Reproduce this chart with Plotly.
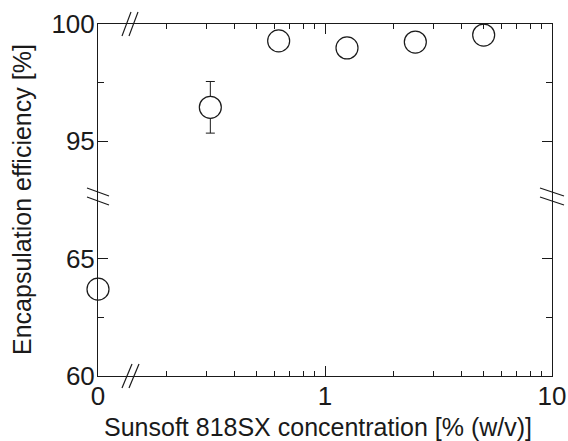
import plotly.graph_objects as go

# ---- data ----
concentration = [0, 0.3125, 0.625, 1.25, 2.5, 5]          # % (w/v)
efficiency = [63.7, 96.45, 99.28, 98.98, 99.23, 99.53]    # %
error = [0, 1.1, 0, 0, 0, 0]
x_ticktext = ["0", "1", "10"]
y_low_ticks = [60, 65]
y_high_ticks = [95, 100]

ZERO_POS = 0.1  # position where "0" is drawn on the broken log axis
BREAK_LOW, BREAK_HIGH = 67.5, 92.5

W, H = 568, 441
ML, MR, MT, MB = 98, 16, 24, 65
PW, PH = W - ML - MR, H - MT - MB
INK = "#1a1a1a"
FONT = "Liberation Sans, Arial, Helvetica, sans-serif"

xp = [c if c > 0 else ZERO_POS for c in concentration]
pts = list(zip(xp, efficiency, error))

marker = dict(symbol="circle", size=22, color="white", line=dict(width=1.2, color=INK))

fig = go.Figure()


def add_group(sel, xa, ya):
    plain = [p for p in sel if p[2] == 0]
    err = [p for p in sel if p[2] > 0]
    if err:
        fig.add_trace(go.Scatter(
            x=[p[0] for p in err], y=[p[1] for p in err], mode="markers",
            marker=marker, xaxis=xa, yaxis=ya, cliponaxis=False, showlegend=False,
            error_y=dict(type="data", array=[p[2] for p in err], visible=True,
                         color=INK, thickness=1, width=4.5)))
    if plain:
        fig.add_trace(go.Scatter(
            x=[p[0] for p in plain], y=[p[1] for p in plain], mode="markers",
            marker=marker, xaxis=xa, yaxis=ya, cliponaxis=False, showlegend=False))


add_group([p for p in pts if p[1] <= BREAK_LOW], "x", "y")
add_group([p for p in pts if p[1] >= BREAK_HIGH], "x2", "y2")

minor_x = [0.2, 0.3, 0.4, 0.5, 0.6, 0.7, 0.8, 0.9, 2, 3, 4, 5, 6, 7, 8, 9]
common_x = dict(type="log", range=[-1, 1], showline=True, linecolor=INK, linewidth=1,
                ticks="inside", ticklen=10, tickcolor=INK, tickwidth=1,
                tickmode="array", tickvals=[ZERO_POS, 1, 10], ticktext=x_ticktext,
                showgrid=False, zeroline=False, automargin=False,
                minor=dict(ticks="inside", ticklen=5, tickcolor=INK, tickwidth=1,
                           tickmode="array", tickvals=minor_x, showgrid=False),
                tickfont=dict(family=FONT, size=26, color=INK))
common_y = dict(showline=True, linecolor=INK, linewidth=1, mirror="ticks",
                ticks="inside", ticklen=10, tickcolor=INK, tickwidth=1,
                showgrid=False, zeroline=False, ticklabelstandoff=-3, automargin=False,
                tickfont=dict(family=FONT, size=26, color=INK))

fig.update_layout(
    width=W, height=H,
    margin=dict(l=ML, r=MR, t=MT, b=MB, autoexpand=False),
    paper_bgcolor="white", plot_bgcolor="white",
    font=dict(family=FONT, color=INK),
    xaxis=dict(**common_x, anchor="y", side="bottom", domain=[0, 1],
               ticklabelstandoff=-3),
    xaxis2=dict(**common_x, anchor="y2", side="top", overlaying="x", matches="x",
                showticklabels=False),
    yaxis=dict(**common_y, anchor="x", domain=[0, 0.5], range=[60, BREAK_LOW],
               tickmode="array", tickvals=y_low_ticks,
               minor=dict(ticks="inside", ticklen=6, tickcolor=INK, tickwidth=1,
                          tickmode="array", tickvals=[62.5], showgrid=False)),
    yaxis2=dict(**common_y, anchor="x2", domain=[0.5, 1], range=[BREAK_HIGH, 100],
                tickmode="array", tickvals=y_high_ticks,
                minor=dict(ticks="inside", ticklen=6, tickcolor=INK, tickwidth=1,
                           tickmode="array", tickvals=[97.5], showgrid=False)),
)


# pixel -> paper helpers (for titles and axis-break marks)
def px(x):
    return (x - ML) / PW


def py(y):
    return (H - MB - y) / PH


# axis titles
fig.add_annotation(text="Encapsulation efficiency [%]", textangle=-90,
                   xref="paper", yref="paper", x=px(22), y=0.5,
                   xanchor="center", yanchor="middle",
                   showarrow=False, font=dict(family=FONT, size=25, color=INK))
fig.add_annotation(text="Sunsoft 818SX concentration [% (w/v)]",
                   xref="paper", yref="paper", x=px(318), y=py(427),
                   xanchor="center", yanchor="middle",
                   showarrow=False, font=dict(family=FONT, size=25, color=INK))


def seg(x0, y0, x1, y1):
    fig.add_shape(type="line", xref="paper", yref="paper",
                  x0=px(x0), y0=py(y0), x1=px(x1), y1=py(y1),
                  line=dict(color=INK, width=1.2))


# left & right y-axis breaks
seg(87, 188, 109, 196); seg(87, 197, 109, 205)
seg(540, 188, 564, 196); seg(540, 197, 564, 205)
# top & bottom x-axis breaks
seg(122, 36, 131, 12); seg(129, 36, 138, 12)
seg(122, 388, 132, 364); seg(129, 388, 139, 364)

fig.write_html("out.html", config={"displayModeBar": False},
               post_script="document.body.style.margin='0';document.body.style.overflow='hidden';")
